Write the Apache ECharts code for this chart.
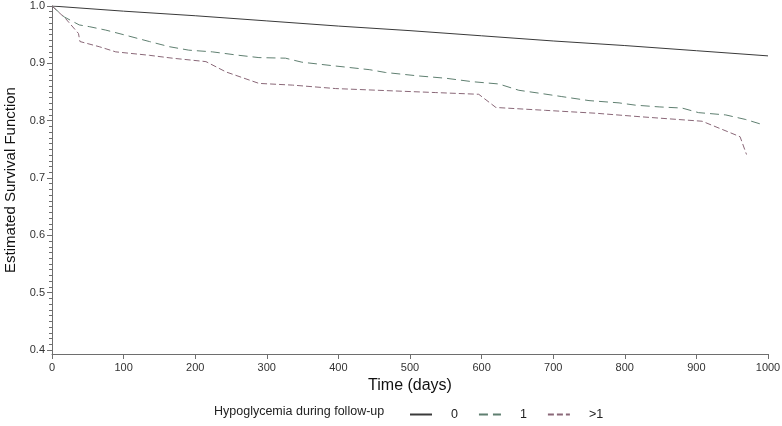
<!DOCTYPE html>
<html>
<head>
<meta charset="utf-8">
<script src="https://cdn.jsdelivr.net/npm/echarts@6/dist/echarts.min.js"></script>
<style>
  html, body { margin: 0; padding: 0; background: #fff; }
  #chart { width: 782px; height: 426px; }
</style>
</head>
<body>
<div id="chart"></div>
<script>
// survival curves (time in days, estimated survival)
const groups = ['0', '1', '>1']

const t0 = [0, 100, 200, 300, 400, 500, 600, 700, 800, 900, 1000]
const s0 = [1.0, 0.991, 0.983, 0.974, 0.965, 0.957, 0.948, 0.939, 0.931, 0.922, 0.913]

const t1 = [0, 17, 38, 52, 75, 103, 136, 164, 191, 224, 261, 289, 326, 349, 391, 443, 466, 512, 550, 587, 624, 652, 680, 712, 750, 792, 815, 848, 880, 903, 941, 969, 990]
const s1 = [1.0, 0.981, 0.967, 0.964, 0.958, 0.949, 0.938, 0.929, 0.923, 0.920, 0.914, 0.910, 0.909, 0.902, 0.896, 0.889, 0.884, 0.878, 0.874, 0.868, 0.864, 0.853, 0.848, 0.842, 0.835, 0.831, 0.827, 0.824, 0.822, 0.814, 0.810, 0.802, 0.794]

const t2 = [0, 19, 37, 39, 66, 89, 136, 168, 215, 243, 289, 336, 396, 475, 536, 596, 620, 689, 759, 820, 875, 908, 961, 970]
const s2 = [1.0, 0.978, 0.952, 0.938, 0.929, 0.920, 0.914, 0.909, 0.903, 0.885, 0.865, 0.862, 0.856, 0.852, 0.849, 0.846, 0.823, 0.818, 0.813, 0.807, 0.802, 0.799, 0.772, 0.741]

const yMajor = [0.4, 0.5, 0.6, 0.7, 0.8, 0.9, 1.0]
const yMinor = []
for (let i = 40; i <= 100; i++) yMinor.push(i / 100)

const zip = (t, s) => t.map((x, i) => [x, s[i]])

const font = 'Liberation Sans, Arial, sans-serif'
const axisGray = '#6e6e6e'

const chart = echarts.init(document.getElementById('chart'))

const lineSeries = (name, data, color, dash) => ({
    name,
    type: 'line',
    data,
    symbol: 'none',
    silent: true,
    animation: false,
    lineStyle: { color, width: 1, type: dash },
    itemStyle: { color },
})

chart.setOption({
    animation: false,
    textStyle: { fontFamily: font },
    grid: { left: 52, right: 14, top: 6, bottom: 72, outerBoundsMode: 'none', containLabel: false },
    xAxis: {
        type: 'value',
        min: 0,
        max: 1000,
        interval: 100,
        name: 'Time (days)',
        nameLocation: 'middle',
        nameGap: 24,
        nameTextStyle: { fontSize: 16, color: '#111', fontFamily: font },
        axisLine: { lineStyle: { color: axisGray, width: 1 } },
        axisTick: { lineStyle: { color: axisGray }, length: 5 },
        axisLabel: { fontSize: 11, color: '#333', margin: 8, fontFamily: font, formatter: v => String(v) },
        splitLine: { show: false },
    },
    yAxis: [
        {
            type: 'value',
            min: 0.393,
            max: 1.0,
            name: 'Estimated Survival Function',
            nameLocation: 'middle',
            nameGap: 30,
            nameTextStyle: { fontSize: 15, color: '#111', fontFamily: font },
            axisLine: { lineStyle: { color: axisGray, width: 1 } },
            axisTick: { customValues: yMajor, length: 5, lineStyle: { color: axisGray } },
            axisLabel: {
                customValues: yMajor,
                fontSize: 11,
                color: '#333',
                margin: 7,
                fontFamily: font,
                formatter: v => v.toFixed(1),
            },
            splitLine: { show: false },
        },
        {
            type: 'value',
            position: 'left',
            min: 0.393,
            max: 1.0,
            axisLine: { show: false },
            axisTick: { customValues: yMinor, length: 3, lineStyle: { color: axisGray } },
            axisLabel: { show: false },
            splitLine: { show: false },
        },
    ],
    legend: {
        data: groups,
        left: 404,
        top: 403,
        itemWidth: 22,
        itemHeight: 10,
        itemGap: 20,
        itemStyle: { opacity: 0 },
        textStyle: { fontSize: 12.5, color: '#222', fontFamily: font, padding: [0, 0, 0, 14] },
    },
    graphic: [
        {
            type: 'text',
            left: 214,
            top: 405,
            style: {
                text: 'Hypoglycemia during follow-up',
                font: '12.5px Liberation Sans, Arial, sans-serif',
                fill: '#222',
            },
        },
    ],
    series: [
        lineSeries(groups[0], zip(t0, s0), '#3a3a3a', 'solid'),
        lineSeries(groups[1], zip(t1, s1), '#5f7f70', [9, 5]),
        lineSeries(groups[2], zip(t2, s2), '#8a6878', [6, 3]),
    ],
})
</script>
</body>
</html>
